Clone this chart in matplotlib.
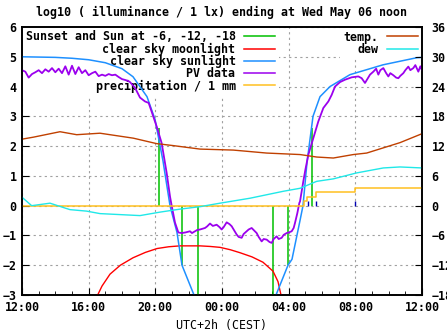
import matplotlib
matplotlib.use("Agg")
import matplotlib.pyplot as plt
from matplotlib.lines import Line2D

plt.rcParams['font.family'] = ['DejaVu Sans Mono']
plt.rcParams['font.weight'] = 'bold'
FS = 8.4

# hours since 12:00
sun_t = [8.24, 9.62, 10.58, 15.04, 15.98, 17.42]
sun_v = [2.6, -2.0, -3.0, -3.0, -2.0, 2.6]

moon_t = [4.54, 4.8, 5.28, 5.9, 6.66, 7.4, 8.1, 8.8, 9.48, 10.68, 11.3, 11.88, 12.5,
          13.08, 13.8, 14.46, 15.06, 15.36, 15.54]
moon_v = [-3.0, -2.7, -2.3, -2.0, -1.75, -1.57, -1.44, -1.38, -1.35, -1.35, -1.37, -1.4,
          -1.48, -1.58, -1.72, -1.9, -2.2, -2.55, -3.0]

sunl_t = [0, 2, 3, 4, 5, 6, 6.66, 7.5, 7.98, 8.46, 8.88, 9.3, 9.6, 10.32, 10.6,
          15.1, 15.24, 15.96, 16.2, 16.68, 16.86, 17.1, 17.46, 17.88, 18.48, 19.68, 21.66, 23.7, 24]
sunl_v = [5.0, 4.98, 4.95, 4.9, 4.8, 4.6, 4.33, 3.66, 2.9, 1.5, 0.0, -0.9, -2.0, -3.0, -3.5,
          -3.5, -3.0, -2.0, -1.8, -0.5, 0.0, 1.45, 3.0, 3.66, 4.0, 4.4, 4.73, 4.97, 4.98]

pv_t = [0.0, 0.2, 0.4, 0.6, 0.8, 1.0, 1.2, 1.4, 1.6, 1.8, 2.0, 2.2, 2.4, 2.6, 2.8, 3.0,
        3.2, 3.4, 3.6, 3.8, 4.0, 4.2, 4.4, 4.6, 4.8, 5.0, 5.2, 5.4, 5.6, 5.8, 6.0, 6.2, 6.4,
        6.48, 6.78, 7.08, 7.38, 7.6, 7.8, 8.08, 8.38, 8.68, 8.88, 8.98, 9.18, 9.38, 9.58,
        9.8, 10.08, 10.2, 10.38, 10.5, 10.68, 10.98, 11.1, 11.28, 11.45, 11.68, 11.85, 11.98,
        12.1, 12.28, 12.45, 12.58, 12.75, 12.88, 13.0, 13.18, 13.3, 13.48, 13.6, 13.78, 13.9,
        14.08, 14.2, 14.38, 14.5, 14.68, 14.85, 14.98, 15.1, 15.28, 15.4, 15.58, 15.7, 15.88,
        16.0, 16.18, 16.3, 16.38, 16.52, 16.64, 16.68, 16.88, 17.0, 17.18, 17.48, 17.78, 18.08,
        18.38, 18.58, 18.78, 19.08, 19.38, 19.78, 20.18, 20.38, 20.58, 20.88, 21.08, 21.25,
        21.38, 21.5, 21.68, 21.85, 21.98, 22.1, 22.28, 22.45, 22.58, 22.7, 22.88, 23.0, 23.18,
        23.3, 23.48, 23.6, 23.78, 23.9, 24.0]
pv_v = [4.55, 4.50, 4.30, 4.42, 4.48, 4.55, 4.45, 4.58, 4.50, 4.62, 4.48, 4.60, 4.45, 4.68,
        4.40, 4.70, 4.42, 4.65, 4.45, 4.55, 4.38, 4.45, 4.50, 4.35, 4.40, 4.36, 4.42, 4.38,
        4.40, 4.32, 4.25, 4.22, 4.18,
        4.15, 3.96, 3.63, 3.5, 3.45, 3.12, 2.66, 2.1, 1.1, 0.31, 0.0, -0.57, -0.9, -0.92,
        -0.9, -0.86, -0.92, -0.86, -0.82, -0.8, -0.75, -0.7, -0.6, -0.68, -0.64, -0.72, -0.8,
        -0.72, -0.56, -0.62, -0.69, -0.85, -0.97, -1.05, -1.08, -0.95, -0.86, -0.8, -0.75, -0.82,
        -0.92, -1.05, -1.2, -1.12, -1.14, -1.22, -1.25, -1.12, -1.03, -1.12, -1.08, -0.98, -0.92,
        -0.9, -0.86, -0.75, -0.58, -0.25, 0.09, 0.14, 0.82, 1.2, 1.71, 2.27, 2.83, 3.28,
        3.5, 3.72, 4.0, 4.15, 4.23, 4.31, 4.34, 4.28, 4.12, 4.4, 4.5, 4.6,
        4.4, 4.55, 4.62, 4.45, 4.34, 4.45, 4.38, 4.3, 4.28, 4.36, 4.45, 4.55, 4.67,
        4.55, 4.62, 4.72, 4.5, 4.68, 4.55]

precip_t = [0, 16.9, 17.1, 17.64, 20.0, 24]
precip_v = [0, 0.15, 0.3, 0.47, 0.6, 0.6]
rain_t = [17.16, 17.64, 20.0]

temp_t = [0, 0.68, 2.28, 3.28, 4.68, 5.68, 6.68, 8.08, 9.08, 10.68, 12.68, 14.68, 16.68,
          17.68, 18.68, 19.88, 20.68, 22.68, 24]
temp_v = [13.4, 13.8, 14.9, 14.3, 14.6, 14.1, 13.6, 12.5, 12.1, 11.4, 11.2, 10.6, 10.3,
          9.8, 9.6, 10.3, 10.6, 12.7, 14.5]

dew_t = [0, 0.58, 1.68, 2.88, 3.88, 4.68, 5.88, 7.08, 8.28, 9.48, 10.68, 11.88, 13.68,
         15.68, 16.68, 17.68, 18.68, 20.08, 21.68, 22.68, 24]
dew_v = [1.7, 0.0, 0.5, -0.8, -1.1, -1.6, -1.8, -2.0, -1.3, -0.7, -0.2, 0.5, 1.5,
         2.9, 3.5, 4.9, 5.4, 6.6, 7.6, 7.8, 7.6]

xticks = [0, 4, 8, 12, 16, 20, 24]
xlabels = ['12:00', '16:00', '20:00', '00:00', '04:00', '08:00', '12:00']

fig = plt.figure(figsize=(4.47, 3.35), dpi=100)
ax = fig.add_axes([22/447, 1-295/335, 400/447, 268/335])
ax2 = ax.twinx()

c_sun = '#00c000'
c_moon = '#ff0000'
c_sunl = '#1e90ff'
c_pv = '#9b00ee'
c_pr = '#ffc020'
c_temp = '#c04000'
c_dew = '#20e8e8'

ax.vlines(sun_t, 0, sun_v, color=c_sun, lw=1.1, zorder=3)
ax.plot(moon_t, moon_v, color=c_moon, lw=1.0, zorder=3)
ax.plot(sunl_t, sunl_v, color=c_sunl, lw=1.1, zorder=3)
ax.plot(pv_t, pv_v, color=c_pv, lw=1.3, zorder=3)
ax.plot(precip_t, precip_v, color=c_pr, lw=1.1, zorder=3, drawstyle='steps-post')
ax.vlines(rain_t, 0, 0.17, color='#0000b0', lw=1.0, zorder=3)

ax2.plot(temp_t, temp_v, color=c_temp, lw=1.0)
ax2.plot(dew_t, dew_v, color=c_dew, lw=1.0)

ax.set_xlim(0, 24)
ax.set_ylim(-3, 6)
ax2.set_ylim(-18, 36)
ax.set_xticks(xticks)
ax.set_xticklabels(xlabels)
ax.set_xticks(range(25), minor=True)
ax.set_yticks(range(-3, 7))
ax2.set_yticks(range(-18, 37, 6))

ax.grid(True, which='major', color='#a0a0a0', linestyle=(0, (2, 3)), lw=0.8)
ax.set_axisbelow(True)
ax.tick_params(axis='x', which='major', direction='in', length=5, labelsize=FS, pad=4, top=False)
ax.tick_params(axis='x', which='minor', direction='in', length=3, top=False)
ax.tick_params(axis='y', direction='in', length=5, labelsize=FS, pad=4, right=False)
ax2.tick_params(axis='y', direction='in', length=5, labelsize=FS, pad=7)
for a in (ax, ax2):
    for s in a.spines.values():
        s.set_linewidth(1.2)

ax.set_xlabel('UTC+2h (CEST)', fontsize=FS, labelpad=4)
fig.text(222/447, 1-12/335, 'log10 ( illuminance / 1 lx) ending at Wed May 06 noon',
         ha='center', va='center', fontsize=FS)

h_left = [Line2D([], [], color=c_sun, lw=1.1), Line2D([], [], color=c_moon, lw=1.1),
          Line2D([], [], color=c_sunl, lw=1.1), Line2D([], [], color=c_pv, lw=1.1),
          Line2D([], [], color=c_pr, lw=1.1)]
l_left = ['Sunset and Sun at -6, -12, -18', 'clear sky moonlight', 'clear sky sunlight',
          'PV data', 'precipitation / 1 mm']
leg1 = ax.legend(h_left, l_left, loc='upper left', bbox_to_anchor=(0, 1), borderaxespad=0,
                 markerfirst=False, fontsize=FS, frameon=True, framealpha=1, edgecolor='none',
                 fancybox=False, handlelength=2.7, handletextpad=0.7, labelspacing=-0.07,
                 borderpad=0.3, alignment='right')
leg1.set_zorder(1)
ax.add_artist(leg1)

h_right = [Line2D([], [], color=c_temp, lw=1.1), Line2D([], [], color=c_dew, lw=1.1)]
leg2 = ax.legend(h_right, ['temp.', 'dew'], loc='upper right', bbox_to_anchor=(1, 1),
                 borderaxespad=0, markerfirst=False, fontsize=FS, frameon=True, framealpha=1,
                 edgecolor='none', fancybox=False, handlelength=2.7, handletextpad=0.7,
                 labelspacing=-0.07, borderpad=0.3)
leg2.set_zorder(1)
for t in leg1.get_texts() + leg2.get_texts():
    t.set_ha('right')

fig.savefig('out.png', dpi=100)
